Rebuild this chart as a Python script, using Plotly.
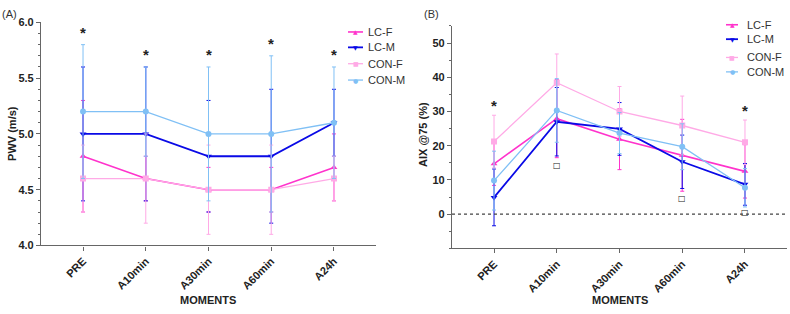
import plotly.graph_objects as go

moments = ["PRE", "A10min", "A30min", "A60min", "A24h"]
series_names = ["LC-F", "LC-M", "CON-F", "CON-M"]

# Panel A: PWV (m/s), mean and SD
pwv_lcf = [4.8, 4.6, 4.5, 4.5, 4.7]
pwv_lcf_sd = [0.5, 0.2, 0.2, 0.2, 0.3]
pwv_lcm = [5.0, 5.0, 4.8, 4.8, 5.1]
pwv_lcm_sd = [0.6, 0.6, 0.5, 0.6, 0.3]
pwv_conf = [4.6, 4.6, 4.5, 4.5, 4.6]
pwv_conf_sd = [0.3, 0.4, 0.4, 0.4, 0.2]
pwv_conm = [5.2, 5.2, 5.0, 5.0, 5.1]
pwv_conm_sd = [0.6, 0.4, 0.6, 0.7, 0.5]

# Panel B: AIX @75 (%), mean and SD
aix_lcf = [14.7, 27.9, 21.9, 17.2, 12.5]
aix_lcf_sd = [6.3, 11.4, 8.9, 10.5, 7.8]
aix_lcm = [4.9, 27.0, 24.9, 15.3, 8.7]
aix_lcm_sd = [8.3, 10.0, 7.7, 7.8, 6.1]
aix_conf = [21.2, 38.4, 30.0, 25.9, 21.0]
aix_conf_sd = [7.7, 8.4, 7.3, 8.6, 6.5]
aix_conm = [9.8, 30.3, 23.7, 19.7, 7.7]
aix_conm_sd = [8.6, 9.3, 6.0, 6.7, 5.6]

# significance marks
pwv_star = [True, True, True, True, True]
aix_star = [True, False, False, False, True]
aix_sq = [False, True, False, True, True]

colors = ["#FF33CC", "#0A0AE6", "#FFAAE6", "#80C0F5"]
symbols = ["triangle-up", "triangle-down", "square", "circle"]
legend_glyphs = ["▲", "▼", "■", "●"]
widths = [1.6, 1.8, 1.3, 1.3]

xs = list(range(len(moments)))
fig = go.Figure()

pwv = [(pwv_lcf, pwv_lcf_sd), (pwv_lcm, pwv_lcm_sd), (pwv_conf, pwv_conf_sd), (pwv_conm, pwv_conm_sd)]
aix = [(aix_lcf, aix_lcf_sd), (aix_lcm, aix_lcm_sd), (aix_conf, aix_conf_sd), (aix_conm, aix_conm_sd)]

for panel, data, xa, ya in [(0, pwv, "x", "y"), (1, aix, "x2", "y2")]:
    for i, (vals, sd) in enumerate(data):
        fig.add_trace(go.Scatter(
            x=xs, y=vals, name=series_names[i], mode="lines+markers",
            xaxis=xa, yaxis=ya, showlegend=False,
            line=dict(color=colors[i], width=widths[i]),
            marker=dict(symbol=symbols[i], size=6, color=colors[i]),
            error_y=dict(type="data", array=sd, visible=True, color=colors[i], thickness=1, width=2),
        ))

ann = []
shapes = []
starfont = dict(size=15, color="#222", family="Arial", weight="bold")
for i in xs:
    if pwv_star[i]:
        top = max(v[i] + s[i] for v, s in pwv)
        ann.append(dict(x=i, y=top, xref="x", yref="y", text="*", showarrow=False,
                        yanchor="bottom", yshift=2, font=starfont))
    if aix_star[i]:
        top = max(v[i] + s[i] for v, s in aix)
        ann.append(dict(x=i, y=top, xref="x2", yref="y2", text="*", showarrow=False,
                        yanchor="bottom", yshift=-1, font=starfont))
    if aix_sq[i]:
        low = min(v[i] - s[i] for v, s in aix[:2])
        ann.append(dict(x=i, y=low, xref="x2", yref="y2", text="□", showarrow=False,
                        yanchor="top", yshift=-1, font=dict(size=8, color="#222", family="DejaVu Sans", weight="bold")))

tf = dict(family="Arial", size=11, color="#222", weight="bold")
for t, x, y, rot in [("PWV (m/s)", 12 / 790, 1 - 133 / 314, -90), ("AIX @75 (%)", 423 / 790, 1 - 134 / 314, -90),
                     ("MOMENTS", 208 / 790, 1 - 306 / 314, 0), ("MOMENTS", 620 / 790, 1 - 306 / 314, 0)]:
    ann.append(dict(x=x, y=y, xref="paper", yref="paper", text=t, showarrow=False, textangle=rot,
                    xanchor="center", yanchor="middle", font=tf))
for t, x in [("(A)", 9 / 790), ("(B)", 431 / 790)]:
    ann.append(dict(x=x, y=1 - 8 / 314, xref="paper", yref="paper", text=t, showarrow=False,
                    xanchor="center", yanchor="middle", font=dict(family="Arial", size=11, color="#333")))

# legends (drawn as line samples + glyph + label)
legend_layouts = [
    dict(x0=348, x1=363, xt=366, ys=[27, 43, 60, 77]),
    dict(x0=726, x1=738, xt=745, ys=[19.5, 34.5, 53.5, 68.5]),
]
for lg in legend_layouts:
    for i, name in enumerate(series_names):
        yp = 1 - lg["ys"][i] / 314
        shapes.append(dict(type="line", xref="paper", yref="paper", x0=lg["x0"] / 790, x1=lg["x1"] / 790,
                           y0=yp, y1=yp, line=dict(color=colors[i], width=widths[i])))
        ann.append(dict(x=(lg["x0"] + lg["x1"]) / 2 / 790, y=yp, xref="paper", yref="paper", text=legend_glyphs[i],
                        showarrow=False, xanchor="center", yanchor="middle",
                        font=dict(family="DejaVu Sans", size=6, color=colors[i])))
        ann.append(dict(x=lg["xt"] / 790, y=yp, xref="paper", yref="paper", text=name, showarrow=False,
                        xanchor="left", yanchor="middle", font=dict(family="Arial", size=11, color="#333")))

shapes.append(dict(type="line", xref="x2 domain", yref="y2", x0=0, x1=1, y0=0, y1=0,
                   line=dict(color="#444", width=1.3, dash="dot")))

axcommon = dict(showgrid=False, zeroline=False, showline=True, linecolor="#666", linewidth=1.2,
                ticks="outside", ticklen=4, tickcolor="#666", tickfont=tf)

fig.update_layout(
    width=790, height=314, margin=dict(l=0, r=0, t=0, b=0),
    paper_bgcolor="white", plot_bgcolor="white", showlegend=False,
    annotations=ann, shapes=shapes,
    xaxis=dict(domain=[41 / 790, 376 / 790], range=[-0.67, 4.67], tickvals=xs, ticktext=moments,
               tickangle=-45, anchor="y", **axcommon),
    yaxis=dict(domain=[1 - 249 / 314, 1 - 17 / 314], range=[4.0, 6.0], tickvals=[4.0, 4.5, 5.0, 5.5, 6.0],
               ticktext=["4.0", "4.5", "5.0", "5.5", "6.0"], anchor="x",
               minor=dict(dtick=0.1, ticklen=2, tickcolor="#666", ticks="outside", showgrid=False), **axcommon),
    xaxis2=dict(domain=[452 / 790, 787 / 790], range=[-0.67, 4.67], tickvals=xs, ticktext=moments,
                tickangle=-45, anchor="y2", **axcommon),
    yaxis2=dict(domain=[1 - 252 / 314, 1 - 20.7 / 314], range=[-10, 55], tickvals=[0, 10, 20, 30, 40, 50],
                anchor="x2",
                minor=dict(dtick=5, ticklen=2, tickcolor="#666", ticks="outside", showgrid=False), **axcommon),
)

fig.write_html("out.html")
